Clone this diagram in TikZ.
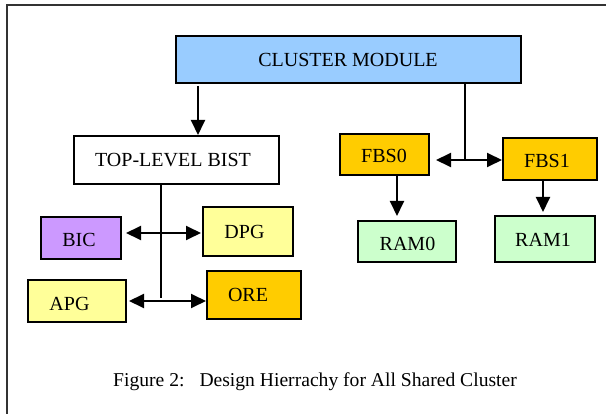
\documentclass[tikz,border=0pt]{standalone}
\usepackage{fontspec}
\setmainfont{Liberation Serif}
\usetikzlibrary{arrows.meta}
\definecolor{clusterblue}{HTML}{99CCFF}
\definecolor{amber}{HTML}{FFCC00}
\definecolor{mint}{HTML}{CCFFCC}
\definecolor{lilac}{HTML}{CC99FF}
\definecolor{paleyellow}{HTML}{FFFF99}
\begin{document}
\begin{tikzpicture}[x=1pt,y=-1pt,
  box/.style={draw=black, line width=2pt, rectangle, inner sep=0pt},
  lbl/.style={inner sep=0pt, font=\fontsize{20}{23}\selectfont},
  link/.style={line width=1.9pt, black},
  tip/.style={arrows={-Triangle[length=15pt,width=14pt]}},
  both/.style={arrows={Triangle[length=15pt,width=14pt]-Triangle[length=15pt,width=14pt]}}]
\useasboundingbox (0,0) rectangle (606,414);

% outer frame (top and left edges)
\draw[line width=2pt, black!80] (606,5) -- (7,5) -- (7,414);

% blocks
\node[box, fill=clusterblue, minimum width=345pt, minimum height=47pt] (cluster) at (348.5,59.5) {};
\node[box, fill=white, minimum width=205pt, minimum height=48pt] (top) at (176.5,160) {};
\node[box, fill=amber, minimum width=89pt, minimum height=41pt] (fbs0) at (384.5,154.5) {};
\node[box, fill=amber, minimum width=94pt, minimum height=42pt] (fbs1) at (550,159) {};
\node[box, fill=mint, minimum width=98pt, minimum height=41pt] (ram0) at (407,241.5) {};
\node[box, fill=mint, minimum width=100pt, minimum height=46pt] (ram1) at (545,239) {};
\node[box, fill=lilac, minimum width=80pt, minimum height=42pt] (bic) at (81,238) {};
\node[box, fill=paleyellow, minimum width=90pt, minimum height=49pt] (dpg) at (248,231.5) {};
\node[box, fill=paleyellow, minimum width=98pt, minimum height=42pt] (apg) at (77,301) {};
\node[box, fill=amber, minimum width=94pt, minimum height=48pt] (ore) at (254,295) {};

% block titles
\node[lbl] (tcluster) at (348,60) {CLUSTER MODULE};
\node[lbl] (ttop) at (173,160) {TOP-LEVEL BIST};
\node[lbl] (tfbs0) at (384,156) {FBS0};
\node[lbl] (tfbs1) at (547,161) {FBS1};
\node[lbl] (tram0) at (407.5,244) {RAM0};
\node[lbl] (tram1) at (543,240) {RAM1};
\node[lbl] (tbic) at (79,240) {BIC};
\node[lbl] (tdpg) at (244.5,231.5) {DPG};
\node[lbl] (tapg) at (69.5,304) {APG};
\node[lbl] (tore) at (248,295) {ORE};

% routing points
\coordinate (xa) at (198,0);
\coordinate (junction) at (465,160);
\coordinate (xbus) at (161,0);
\coordinate (bus1) at (161,233);
\coordinate (bus2) at (161,301);
\coordinate (busend) at (161,298);
\coordinate (xr0) at (397,0);
\coordinate (xr1) at (543,0);

% connectors
\draw[link, tip] ([yshift=-2pt]cluster.south -| xa) -- (top.north -| xa);
\draw[link] (cluster.south -| junction) -- (junction);
\draw[link, both] ([xshift=6pt]fbs0.east |- junction) -- (fbs1.west |- junction);
\draw[link] (top.south -| xbus) -- (busend);
\draw[link, both] ([xshift=4pt]bic.east |- bus1) -- ([xshift=-1pt]dpg.west |- bus1);
\draw[link, both] ([xshift=2pt]apg.east |- bus2) -- (ore.west |- bus2);
\draw[link, tip] (fbs0.south -| xr0) -- ([yshift=4pt]ram0.north -| xr0);
\draw[link, tip] (fbs1.south -| xr1) -- ([yshift=3pt]ram1.north -| xr1);

% caption
\node[lbl, font=\fontsize{19.6}{23}\selectfont, anchor=base west] (caption) at (113,387) {Figure 2:\hspace{15pt}Design Hierrachy for All Shared Cluster};
\end{tikzpicture}
\end{document}
